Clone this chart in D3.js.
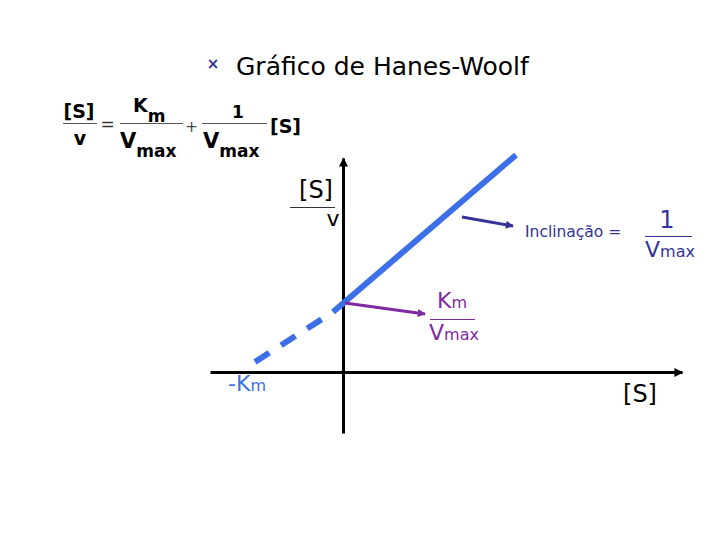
<!DOCTYPE html>
<html>
<head>
<meta charset="utf-8">
<script src="https://cdn.jsdelivr.net/npm/d3@7"></script>
<style>
  body { margin: 0; background: #fff; }
  text { font-family: "DejaVu Sans", Verdana, sans-serif; }
</style>
</head>
<body>
<svg width="720" height="540"></svg>
<script>
// Hanes-Woolf plot: [S]/v against [S] (Km = 1 unit)
const solidLine = [[-0.10, 0.60], [1.73, 2.17]];
const dashedLine = [[-0.88, 0.10], [-0.10, 0.60]];
const slopeArrow = [[1.19, 1.55], [1.70, 1.46]];
const interceptArrow = [[0.02, 0.69], [0.82, 0.58]];
const xDomain = [-1.33, 3.39];
const yDomain = [-0.61, 2.14];

const blue = "#3d6fe8";
const navy = "#333399";
const purple = "#7d2aa3";

const svg = d3.select("svg");

const x = d3.scaleLinear().domain(xDomain).range([210, 682]);
const y = d3.scaleLinear().domain(yDomain).range([433, 158]);

// arrow heads
const defs = svg.append("defs");
function marker(id, color, w, h) {
    defs.append("marker")
        .attr("id", id)
        .attr("viewBox", "0 0 10 10")
        .attr("refX", 9)
        .attr("refY", 5)
        .attr("markerUnits", "userSpaceOnUse")
        .attr("markerWidth", w)
        .attr("markerHeight", h)
        .attr("orient", "auto")
        .append("path")
        .attr("d", "M0,0L10,5L0,10z")
        .attr("fill", color);
}
marker("arrowBlack", "#000", 11, 9);
marker("arrowNavy", navy, 10, 8);
marker("arrowPurple", purple, 10, 8);

// title
svg.append("text")
    .attr("x", 213).attr("y", 69)
    .attr("text-anchor", "middle")
    .attr("font-size", 15).attr("font-weight", "bold")
    .attr("fill", navy)
    .text("×");
svg.append("text")
    .attr("x", 236).attr("y", 75)
    .attr("font-size", 25)
    .attr("fill", "#000")
    .text("Gráfico de Hanes-Woolf");

// equation
const eq = svg.append("g").attr("font-weight", "bold").attr("fill", "#000");
function rule(g, x0, x1, yy, color) {
    g.append("line")
        .attr("x1", x0).attr("x2", x1)
        .attr("y1", yy).attr("y2", yy)
        .attr("stroke", color).attr("stroke-width", 1);
}
eq.append("text").attr("x", 79).attr("y", 118).attr("text-anchor", "middle")
    .attr("font-size", 19).text("[S]");
rule(eq, 63, 97, 123.5, "#555");
eq.append("text").attr("x", 80).attr("y", 145).attr("text-anchor", "middle")
    .attr("font-size", 19).text("v");
eq.append("text").attr("x", 107.5).attr("y", 130).attr("text-anchor", "middle")
    .attr("font-size", 17).attr("font-weight", "normal").attr("fill", "#333").text("=");

const km = eq.append("text").attr("x", 133).attr("y", 112);
km.append("tspan").attr("font-size", 19).text("K");
km.append("tspan").attr("font-size", 17).attr("dy", 10).text("m");
rule(eq, 120, 183, 123.5, "#555");
const vmax1 = eq.append("text").attr("x", 120).attr("y", 148);
vmax1.append("tspan").attr("font-size", 21).text("V");
vmax1.append("tspan").attr("font-size", 17).attr("dy", 9).text("max");

eq.append("text").attr("x", 191.5).attr("y", 132).attr("text-anchor", "middle")
    .attr("font-size", 15).attr("font-weight", "normal").attr("fill", "#444").text("+");

eq.append("text").attr("x", 238).attr("y", 118).attr("text-anchor", "middle")
    .attr("font-size", 17).text("1");
rule(eq, 202, 267, 123.5, "#555");
const vmax2 = eq.append("text").attr("x", 203).attr("y", 148);
vmax2.append("tspan").attr("font-size", 21).text("V");
vmax2.append("tspan").attr("font-size", 17).attr("dy", 9).text("max");
eq.append("text").attr("x", 270).attr("y", 133)
    .attr("font-size", 19).text("[S]");

// axes, no ticks
const xAxis = svg.append("g")
    .attr("transform", "translate(0," + y(0) + ")")
    .call(d3.axisBottom(x).tickValues([]).tickSizeOuter(0));
const yAxis = svg.append("g")
    .attr("transform", "translate(" + x(0) + ",0)")
    .call(d3.axisLeft(y).tickValues([]).tickSizeOuter(0));
[xAxis, yAxis].forEach(a => a.select(".domain")
    .attr("stroke", "#000")
    .attr("stroke-width", 3)
    .attr("marker-end", "url(#arrowBlack)"));

// the line
const line = d3.line().x(d => x(d[0])).y(d => y(d[1]));
svg.append("path")
    .datum(dashedLine)
    .attr("d", line)
    .attr("fill", "none")
    .attr("stroke", blue)
    .attr("stroke-width", 6)
    .attr("stroke-dasharray", "17,14");
svg.append("path")
    .datum(solidLine)
    .attr("d", line)
    .attr("fill", "none")
    .attr("stroke", blue)
    .attr("stroke-width", 6);

// annotation arrows
svg.append("path")
    .datum(slopeArrow)
    .attr("d", line)
    .attr("stroke", navy).attr("stroke-width", 3)
    .attr("marker-end", "url(#arrowNavy)");
svg.append("path")
    .datum(interceptArrow)
    .attr("d", line)
    .attr("stroke", purple).attr("stroke-width", 3)
    .attr("marker-end", "url(#arrowPurple)");

// axis labels
svg.append("text").attr("x", 316).attr("y", 198).attr("text-anchor", "middle")
    .attr("font-size", 24).text("[S]");
rule(svg, 290, 335, 207.5, "#333");
svg.append("text").attr("x", 333).attr("y", 226).attr("text-anchor", "middle")
    .attr("font-size", 22).text("v");

svg.append("text").attr("x", 640).attr("y", 402).attr("text-anchor", "middle")
    .attr("font-size", 24).text("[S]");

const negKm = svg.append("text").attr("x", 228).attr("y", 391).attr("fill", blue);
negKm.append("tspan").attr("font-size", 22).text("-K");
negKm.append("tspan").attr("font-size", 16).text("m");

// slope label
svg.append("text").attr("x", 525).attr("y", 237)
    .attr("font-size", 15.5).attr("fill", navy)
    .text("Inclinação =");
svg.append("text").attr("x", 667).attr("y", 228).attr("text-anchor", "middle")
    .attr("font-size", 24).attr("fill", navy).text("1");
rule(svg, 645, 692, 236.5, navy);
const vmax3 = svg.append("text").attr("x", 645).attr("y", 257).attr("fill", navy);
vmax3.append("tspan").attr("font-size", 22).text("V");
vmax3.append("tspan").attr("font-size", 16).text("max");

// intercept label
const kmLab = svg.append("text").attr("x", 437).attr("y", 308).attr("fill", purple);
kmLab.append("tspan").attr("font-size", 22).text("K");
kmLab.append("tspan").attr("font-size", 16).text("m");
rule(svg, 430, 475, 319.5, purple);
const vmax4 = svg.append("text").attr("x", 429).attr("y", 340).attr("fill", purple);
vmax4.append("tspan").attr("font-size", 22).text("V");
vmax4.append("tspan").attr("font-size", 16).text("max");
</script>
</body>
</html>
